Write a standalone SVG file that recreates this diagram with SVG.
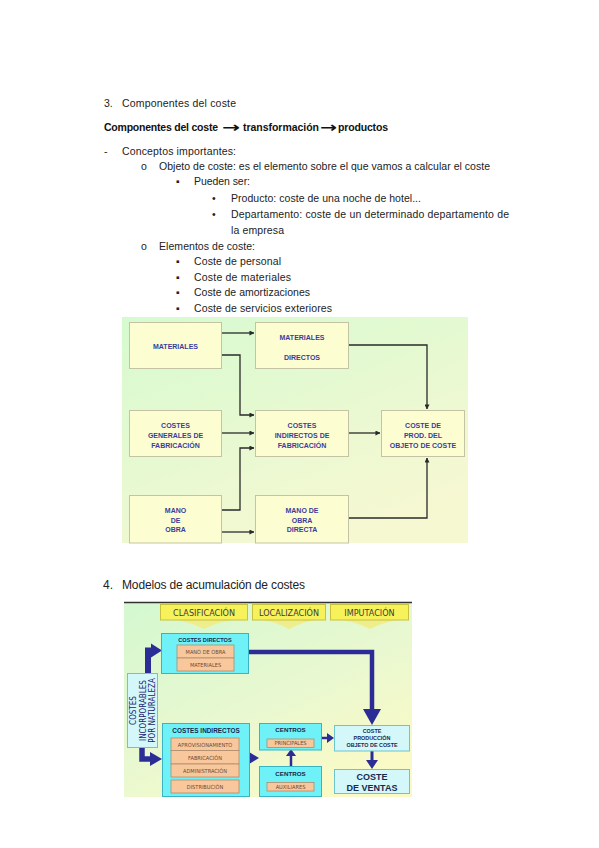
<svg xmlns="http://www.w3.org/2000/svg" width="599" height="848" viewBox="0 0 599 848">
<defs>
<linearGradient id="bg1" x1="0" y1="0" x2="0.6" y2="1">
<stop offset="0" stop-color="#d6fad0"/>
<stop offset="1" stop-color="#f6f8d2"/>
</linearGradient>
<linearGradient id="bg2" x1="0" y1="0" x2="0.7" y2="1">
<stop offset="0" stop-color="#d4f8d0"/>
<stop offset="0.6" stop-color="#eaf8d0"/>
<stop offset="1" stop-color="#fafac6"/>
</linearGradient>
<marker id="ah" viewBox="0 0 6 6" refX="5.5" refY="3" markerWidth="5" markerHeight="5" markerUnits="userSpaceOnUse" orient="auto">
<path d="M0,0 L6,3 L0,6 z" fill="#2a2a2a"/>
</marker>
<style>
.body{font-family:"Liberation Sans","Noto Sans",Arial,sans-serif;font-size:10.5px;fill:#222}
.bold{font-family:"Liberation Sans","Noto Sans",Arial,sans-serif;font-size:10.5px;font-weight:bold;fill:#111}
.arr{font-family:"DejaVu Sans",sans-serif;font-size:14px;font-weight:bold;fill:#111}
.h4{font-family:"Liberation Sans","Noto Sans",Arial,sans-serif;font-size:12px;fill:#222}
.b1{fill:#fdfdd2;stroke:#c4c4a4;stroke-width:1}
.t1{font-family:"Liberation Sans",Arial,sans-serif;font-size:7px;font-weight:bold;fill:#3c3c9c;text-anchor:middle}
.c1{fill:none;stroke:#2a2a2a;stroke-width:1.3}
.tab{fill:#f8f25a;stroke:#c8c040;stroke-width:1}
.tabt{font-family:"DejaVu Sans Condensed","Liberation Sans",sans-serif;font-size:9px;fill:#3a3a3a;text-anchor:middle}
.chev{fill:#f0ec84;opacity:0.9}
.cy{fill:#6ef2f8;stroke:#3ab4c0;stroke-width:1}
.lc{fill:#d4f8fa;stroke:#6cc4cc;stroke-width:1}
.or{fill:#f8c89c;stroke:#b08a6a;stroke-width:0.8}
.ot{font-family:"DejaVu Sans Condensed","Liberation Sans",sans-serif;font-size:5.6px;fill:#6a4838;text-anchor:middle}
.ct{font-family:"Liberation Sans",Arial,sans-serif;font-size:6.2px;font-weight:bold;fill:#1a2850;text-anchor:middle}
.nv{fill:none;stroke:#2c2c96}
.nh{fill:#2c2c96}
</style>
</defs>
<rect x="0" y="0" width="599" height="848" fill="#ffffff"/>

<g id="text-section3">
<text class="body" x="104" y="107">3.</text>
<text class="body" x="122" y="107" textLength="114">Componentes del coste</text>
<text class="bold" x="104" y="131" textLength="114">Componentes del coste</text>
<text class="arr" x="222" y="132" textLength="18" lengthAdjust="spacingAndGlyphs">→</text>
<text class="bold" x="243" y="131" textLength="76">transformación</text>
<text class="arr" x="320" y="132" textLength="17" lengthAdjust="spacingAndGlyphs">→</text>
<text class="bold" x="338" y="131" textLength="50">productos</text>
<text class="body" x="104" y="155">-</text>
<text class="body" x="122" y="155" textLength="114">Conceptos importantes:</text>
<text class="body" x="141" y="170">o</text>
<text class="body" x="159" y="170" textLength="331">Objeto de coste: es el elemento sobre el que vamos a calcular el coste</text>
<text class="body" x="176" y="185">▪</text>
<text class="body" x="194" y="185" textLength="56">Pueden ser:</text>
<text class="body" x="212" y="202">•</text>
<text class="body" x="231" y="202" textLength="190">Producto: coste de una noche de hotel...</text>
<text class="body" x="212" y="218">•</text>
<text class="body" x="231" y="218" textLength="278">Departamento: coste de un determinado departamento de</text>
<text class="body" x="231" y="234" textLength="53">la empresa</text>
<text class="body" x="141" y="250">o</text>
<text class="body" x="159" y="250" textLength="96">Elementos de coste:</text>
<text class="body" x="176" y="265">▪</text>
<text class="body" x="194" y="265" textLength="87">Coste de personal</text>
<text class="body" x="176" y="281">▪</text>
<text class="body" x="194" y="281" textLength="97">Coste de materiales</text>
<text class="body" x="176" y="296">▪</text>
<text class="body" x="194" y="296" textLength="116">Coste de amortizaciones</text>
<text class="body" x="176" y="312">▪</text>
<text class="body" x="194" y="312" textLength="138">Coste de servicios exteriores</text>
</g>

<rect x="122" y="317" width="346" height="226" fill="url(#bg1)"/>

<g id="connectors1">
<path class="c1" d="M222,333 H254" marker-end="url(#ah)"/>
<path class="c1" d="M222,355 H240 V415 H254" marker-end="url(#ah)"/>
<path class="c1" d="M349,345 H427 V409" marker-end="url(#ah)"/>
<path class="c1" d="M222,433 H254" marker-end="url(#ah)"/>
<path class="c1" d="M349,433 H380" marker-end="url(#ah)"/>
<path class="c1" d="M222,510 H240 V448 H254" marker-end="url(#ah)"/>
<path class="c1" d="M222,532 H254" marker-end="url(#ah)"/>
<path class="c1" d="M349,518 H427 V458" marker-end="url(#ah)"/>
</g>

<g id="n-materiales">
<rect class="b1" x="129.5" y="322.5" width="92" height="46"/>
<text class="t1" x="175.5" y="348.5">MATERIALES</text>
</g>
<g id="n-materiales-directos">
<rect class="b1" x="255.5" y="322.5" width="93" height="46"/>
<text class="t1" x="302" y="339.5">MATERIALES</text>
<text class="t1" x="302" y="359.5">DIRECTOS</text>
</g>
<g id="n-costes-generales">
<rect class="b1" x="129.5" y="410.5" width="92" height="46"/>
<text class="t1" x="175.5" y="427.5">COSTES</text>
<text class="t1" x="175.5" y="437.5">GENERALES DE</text>
<text class="t1" x="175.5" y="447.5">FABRICACIÓN</text>
</g>
<g id="n-costes-indirectos">
<rect class="b1" x="255.5" y="410.5" width="93" height="46"/>
<text class="t1" x="302" y="427.5">COSTES</text>
<text class="t1" x="302" y="437.5">INDIRECTOS DE</text>
<text class="t1" x="302" y="447.5">FABRICACIÓN</text>
</g>
<g id="n-coste-prod">
<rect class="b1" x="381.5" y="410.5" width="83" height="46"/>
<text class="t1" x="423" y="427.5">COSTE DE</text>
<text class="t1" x="423" y="437.5">PROD. DEL</text>
<text class="t1" x="423" y="447.5">OBJETO DE COSTE</text>
</g>
<g id="n-mano-obra">
<rect class="b1" x="129.5" y="495.5" width="92" height="47.5"/>
<text class="t1" x="175.5" y="512.5">MANO</text>
<text class="t1" x="175.5" y="522.5">DE</text>
<text class="t1" x="175.5" y="532">OBRA</text>
</g>
<g id="n-mano-obra-directa">
<rect class="b1" x="255.5" y="495.5" width="93" height="47.5"/>
<text class="t1" x="302" y="512.5">MANO DE</text>
<text class="t1" x="302" y="522.5">OBRA</text>
<text class="t1" x="302" y="532">DIRECTA</text>
</g>

<g id="text-section4">
<text class="h4" x="103" y="589">4.</text>
<text class="h4" x="122" y="589" textLength="183">Modelos de acumulación de costes</text>
</g>

<rect x="124" y="602" width="288" height="195" fill="url(#bg2)"/>
<line x1="124" y1="602.5" x2="412" y2="602.5" stroke="#333" stroke-width="1.5"/>

<g id="tabs">
<path class="chev" d="M176,620 H232 Q218,622 204,629 Q190,622 176,620 z"/>
<path class="chev" d="M262,620 H316 Q302,622 289,629 Q276,622 262,620 z"/>
<path class="chev" d="M342,620 H398 Q384,622 370,629 Q356,622 342,620 z"/>
<g id="tab-clasificacion"><rect class="tab" x="160.5" y="604.5" width="87" height="15.5"/><text class="tabt" x="204" y="615.5">CLASIFICACIÓN</text></g>
<g id="tab-localizacion"><rect class="tab" x="252.5" y="604.5" width="73" height="15.5"/><text class="tabt" x="289" y="615.5">LOCALIZACIÓN</text></g>
<g id="tab-imputacion"><rect class="tab" x="330.5" y="604.5" width="78" height="15.5"/><text class="tabt" x="369.5" y="615.5">IMPUTACIÓN</text></g>
</g>

<g id="connectors2">
<path class="nv" stroke-width="6" d="M148,674 V650.5 H153"/>
<polygon class="nh" points="151,643.5 162,650.5 151,657.5"/>
<path class="nv" stroke-width="4.5" d="M249,652 H372 V711"/>
<polygon class="nh" points="363,709 381,709 372,725"/>
<path class="nv" stroke-width="5.5" d="M142,748 V759 H152"/>
<polygon class="nh" points="150,752 162,759 150,766"/>
<path class="nv" stroke-width="6" d="M240,758 H248"/>
<polygon class="nh" points="245,749.5 259,758 245,766.5"/>
<path class="nv" stroke-width="2.5" d="M291,766 V755"/>
<polygon class="nh" points="286,756 296,756 291,749"/>
<path class="nv" stroke-width="2.5" d="M322,738 H328"/>
<polygon class="nh" points="327,733 334,738 327,743"/>
<path class="nv" stroke-width="3" d="M372,751 V761"/>
<polygon class="nh" points="366,760 378,760 372,769"/>
</g>

<g id="n-costes-directos">
<rect class="cy" x="161.5" y="633.5" width="87" height="40"/>
<text class="ct" x="205" y="641.5" style="font-size:5.6px">COSTES DIRECTOS</text>
<rect class="or" x="177" y="645" width="57" height="13"/>
<text class="ot" x="205.5" y="653.5">MANO DE OBRA</text>
<rect class="or" x="177" y="658" width="57" height="13"/>
<text class="ot" x="205.5" y="666.5">MATERIALES</text>
</g>

<g id="n-incorporables">
<rect class="lc" x="127.5" y="673.5" width="30" height="74"/>
<g transform="translate(142.5,710.5) rotate(-90)" style="font-family:'DejaVu Sans Condensed','Liberation Sans',sans-serif;font-size:8px;fill:#22226e;text-anchor:middle">
<text x="0" y="-6.5">COSTES</text>
<text x="0" y="3">INCORPORABLES</text>
<text x="0" y="12.5">POR NATURALEZA</text>
</g>
</g>

<g id="n-costes-indirectos2">
<rect class="cy" x="162.5" y="723.5" width="87" height="73"/>
<text class="ct" x="206" y="733" style="font-size:6.4px">COSTES INDIRECTOS</text>
<rect class="or" x="171" y="738" width="68" height="12.5"/>
<text class="ot" x="205" y="746.5">APROVISIONAMIENTO</text>
<rect class="or" x="171" y="750.5" width="68" height="13.5"/>
<text class="ot" x="205" y="759.5">FABRICACIÓN</text>
<rect class="or" x="171" y="764" width="68" height="13"/>
<text class="ot" x="205" y="772.5">ADMINISTRACIÓN</text>
<rect class="or" x="171" y="780" width="68" height="13"/>
<text class="ot" x="205" y="788.5">DISTRIBUCIÓN</text>
</g>

<g id="n-centros-principales">
<rect class="cy" x="259.5" y="723.5" width="62" height="26.5"/>
<text class="ct" x="290.5" y="732">CENTROS</text>
<rect class="or" x="267" y="739" width="47" height="8.5"/>
<text class="ot" x="290.5" y="745.3">PRINCIPALES</text>
</g>

<g id="n-centros-auxiliares">
<rect class="cy" x="259.5" y="766.5" width="62" height="30"/>
<text class="ct" x="290.5" y="775.5">CENTROS</text>
<rect class="or" x="267" y="782.5" width="47" height="8.5"/>
<text class="ot" x="290.5" y="788.8">AUXILIARES</text>
</g>

<g id="n-coste-produccion">
<rect class="lc" x="334.5" y="725.5" width="75" height="25.5"/>
<text class="ct" x="372" y="733" style="font-size:5.4px">COSTE</text>
<text class="ct" x="372" y="739.5" style="font-size:5.4px">PRODUCCIÓN</text>
<text class="ct" x="372" y="747" style="font-size:5.4px">OBJETO DE COSTE</text>
</g>

<g id="n-coste-ventas">
<rect class="lc" x="334.5" y="769.5" width="75" height="24"/>
<text class="ct" x="372" y="780" style="font-size:9px">COSTE</text>
<text class="ct" x="372" y="790.5" style="font-size:9px">DE VENTAS</text>
</g>
</svg>
